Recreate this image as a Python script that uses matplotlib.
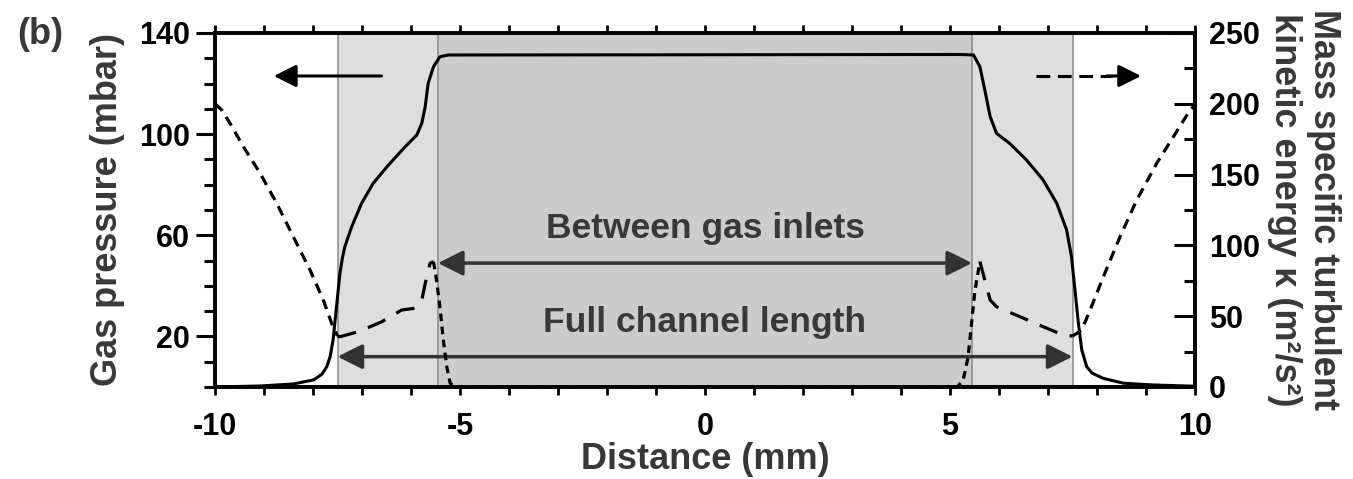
import matplotlib
matplotlib.use("Agg")
import matplotlib.pyplot as plt
from matplotlib.ticker import MultipleLocator

plt.rcParams['font.family'] = ['Liberation Sans', 'DejaVu Sans']
plt.rcParams['font.weight'] = 'bold'
plt.rcParams['axes.labelweight'] = 'bold'
plt.rcParams['axes.unicode_minus'] = False

# ---------------------------------------------------------------------------
# data
# ---------------------------------------------------------------------------
# gas pressure (mbar), left axis
pres_x = [-10.0, -9.08, -8.4, -7.99, -7.82, -7.72, -7.65, -7.59, -7.52, -7.45,
          -7.4, -7.35, -7.21, -7.01, -6.77, -6.46, -6.12, -5.88, -5.78, -5.71,
          -5.65, -5.54, -5.41, -5.24,
          5.2, 5.48, 5.61, 5.71, 5.82, 5.95, 6.22, 6.56, 6.9, 7.18, 7.38,
          7.48, 7.55, 7.62, 7.69, 7.79, 7.9, 8.13, 8.54, 9.15, 9.83, 10.0]
pres_y = [0.0, 0.4, 1.2, 2.8, 5.0, 8.0, 12.0, 18.6, 31.8, 45.0,
          51.0, 55.5, 63.4, 72.6, 80.6, 87.8, 95.0, 99.7, 104.3, 110.9,
          120.1, 126.7, 130.6, 131.3,
          131.5, 131.3, 126.7, 117.5, 106.9, 100.3, 96.3, 89.8, 81.9, 72.6, 62.1,
          51.5, 38.4, 25.2, 14.6, 8.0, 5.5, 3.4, 1.5, 0.8, 0.4, 0.3]

# mass specific turbulent kinetic energy (m2/s2), right axis
tke_x = [-10.0, -9.86, -9.69, -9.42, -9.08, -8.74, -8.4, -8.06, -7.79, -7.62, -7.5,
         -7.45, -7.08, -6.6, -6.19, -5.92, -5.78, -5.71, -5.61, -5.54,
         -5.48, -5.41, -5.34, -5.27, -5.2, -5.1, 5.15, 5.27, 5.37, 5.44, 5.51,
         5.61, 5.71, 5.82, 5.95, 6.43, 6.9, 7.31, 7.5,
         7.59, 7.69, 7.86, 8.13, 8.47, 8.81, 9.22, 9.56, 9.9, 10.0]
tke_y = [200.0, 195.6, 186.0, 169.7, 151.0, 129.7, 106.0, 82.6, 61.4, 45.0, 36.0,
         35.5, 39.0, 46.0, 54.4, 55.6, 61.4, 73.2, 87.4, 88.5,
         75.6, 56.7, 33.0, 14.3, 2.6, 0.0, 0.0, 5.0, 21.4, 45.0, 68.5,
         88.5, 75.6, 61.4, 56.7, 49.6, 42.6, 36.7, 36.0,
         37.9, 40.3, 54.4, 77.9, 106.1, 132.0, 158.0, 176.8, 195.6, 199.0]

# index ranges of the dashed curve drawn with different dash lengths
seg_outer_left = slice(0, 11)
seg_mid_left = slice(10, 20)
seg_inner = slice(19, 32)
seg_mid_right = slice(31, 39)
seg_outer_right = slice(38, 49)

channel_half = 7.5      # full channel length / 2
inlet_half = 5.45       # between gas inlets / 2

txt_col = '#383838'

fig = plt.figure(figsize=(13.53, 4.79), dpi=100)
ax = fig.add_axes([215 / 1353, 1 - 387 / 479, 980 / 1353, 354 / 479])
ax2 = ax.twinx()

# shaded channel regions
ax.axvspan(-channel_half, channel_half, color='#dedede', lw=0, zorder=0)
ax.axvspan(-inlet_half, inlet_half, color='#cccccc', lw=0, zorder=0)
for xv in [-channel_half, -inlet_half, inlet_half, channel_half]:
    ax.axvline(xv, color='#8a8a8a', lw=1.1, zorder=1)

# pressure curve
ax.plot(pres_x, pres_y, color='black', lw=2.2, zorder=3, solid_joinstyle='round')

# turbulent kinetic energy curve
short = (3.2, 2.2)
long_ = (6.0, 4.0)
for seg, dsh in [(seg_outer_left, short), (seg_mid_left, long_), (seg_inner, (2.4, 1.7)),
                 (seg_mid_right, long_), (seg_outer_right, short)]:
    ax2.plot(tke_x[seg], tke_y[seg], color='black', lw=2.3, dashes=dsh)

# dimension arrows
ax.annotate('', xy=(-inlet_half, 49), xytext=(inlet_half, 49),
            arrowprops=dict(arrowstyle='<|-|>', color='#333333', lw=2.5,
                            mutation_scale=38, shrinkA=0, shrinkB=0))
ax.annotate('', xy=(-channel_half, 12), xytext=(channel_half, 12),
            arrowprops=dict(arrowstyle='<|-|>', color='#333333', lw=2.5,
                            mutation_scale=38, shrinkA=0, shrinkB=0))
ax.text(0, 56, 'Between gas inlets', ha='center', va='bottom', fontsize=25.5, color=txt_col)
ax.text(0, 19, 'Full channel length', ha='center', va='bottom', fontsize=25.5, color=txt_col)

# axis indicator arrows
ax.annotate('', xy=(-8.8, 123), xytext=(-6.6, 123),
            arrowprops=dict(arrowstyle='-|>', color='black', lw=2.2,
                            mutation_scale=34, shrinkA=0, shrinkB=0))
ax.plot([6.75, 8.3], [123, 123], color='black', lw=2.2, dashes=(4.5, 2.5))
ax.annotate('', xy=(8.9, 123), xytext=(8.2, 123),
            arrowprops=dict(arrowstyle='-|>', color='black', lw=2.2,
                            mutation_scale=34, shrinkA=0, shrinkB=0))

# axes limits and ticks
ax.set_xlim(-10, 10)
ax.set_ylim(0, 140)
ax2.set_ylim(0, 250)
ax.set_xticks([-10, -5, 0, 5, 10])
ax.xaxis.set_minor_locator(MultipleLocator(1))
ax.set_yticks([20, 60, 100, 140])
ax.yaxis.set_minor_locator(MultipleLocator(10))
ax2.set_yticks([0, 50, 100, 150, 200, 250])
ax2.yaxis.set_minor_locator(MultipleLocator(25))

ax.tick_params(axis='x', which='both', direction='out', top=True, bottom=True,
               width=2, labelsize=22, pad=12)
ax.tick_params(axis='x', which='major', length=6)
ax.tick_params(axis='x', which='minor', length=6)
ax.tick_params(axis='y', which='major', direction='out', length=14, width=2.2,
               labelsize=22, pad=4)
ax.tick_params(axis='y', which='minor', direction='out', length=8, width=2.2)
ax2.tick_params(axis='y', which='major', direction='in', length=15, width=2.2,
                labelsize=22, pad=10)
ax2.tick_params(axis='y', which='minor', direction='in', length=8, width=2.2)

for a in (ax, ax2):
    for sp in a.spines.values():
        sp.set_linewidth(2.6)

ax.set_xlabel('Distance (mm)', fontsize=26, color=txt_col, labelpad=0)
ax.set_ylabel('Gas pressure (mbar)', fontsize=26, color=txt_col, labelpad=10)
ax2.set_ylabel('Mass specific turbulent\nkinetic energy κ (m²/s²)', fontsize=26,
               color=txt_col, rotation=-90, va='bottom', labelpad=5, linespacing=1.15)

fig.text(17 / 1353, 1 - 35 / 479, '(b)', fontsize=26, color=txt_col, va='center')

fig.savefig('out.png', dpi=100)
